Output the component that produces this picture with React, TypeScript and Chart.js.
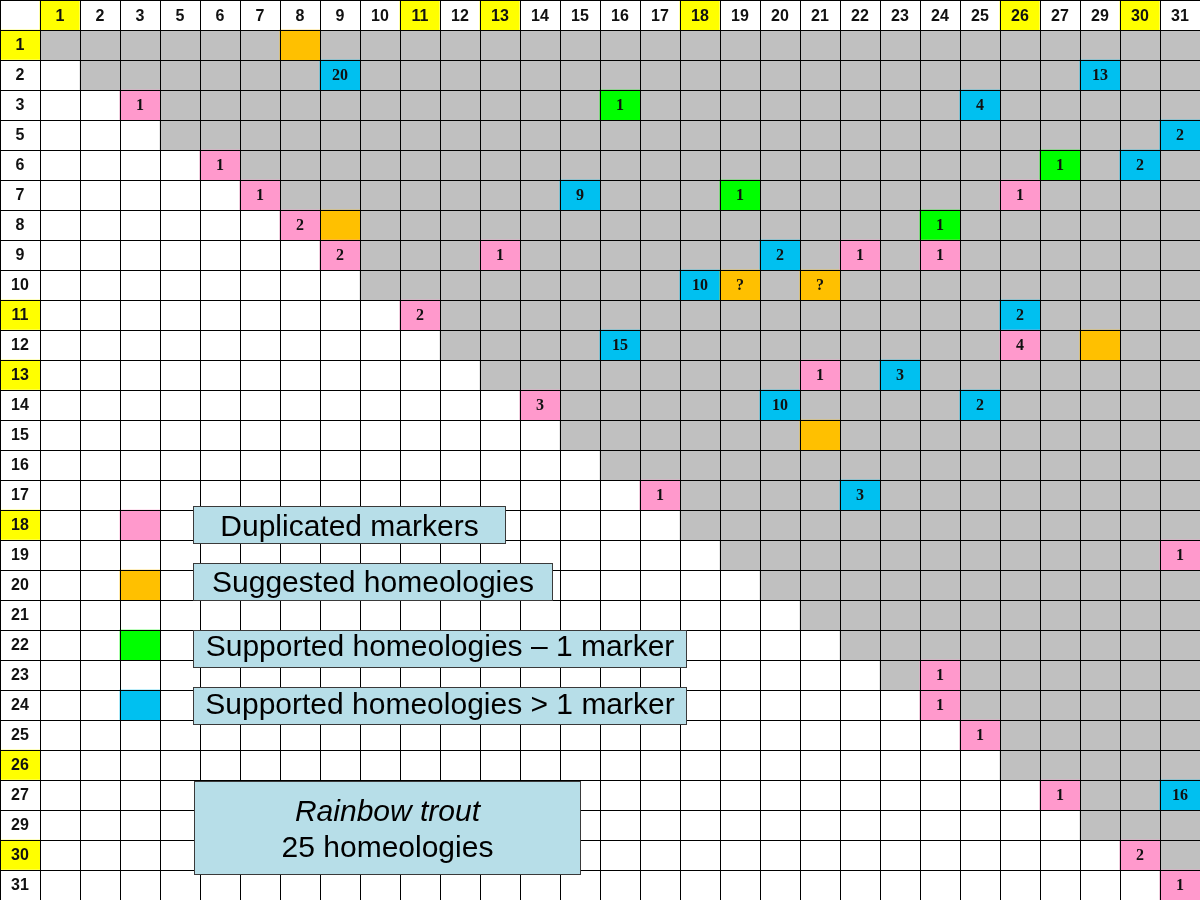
import { useEffect, useRef } from "react";
import { Chart, registerables } from "chart.js";

Chart.register(...registerables);

// Chromosome labels (rows and columns share the same list)
const chromosomes = ["1", "2", "3", "5", "6", "7", "8", "9", "10", "11", "12", "13", "14", "15", "16", "17", "18", "19", "20", "21", "22", "23", "24", "25", "26", "27", "29", "30", "31"];
const highlighted = ["1", "11", "13", "18", "26", "30"];

// [row, column, marker count]
const duplicatedMarkers: [string, string, string][] = [
  ["3", "3", "1"], ["6", "6", "1"], ["7", "7", "1"], ["7", "26", "1"], ["8", "8", "2"],
  ["9", "9", "2"], ["9", "13", "1"], ["9", "22", "1"], ["9", "24", "1"], ["11", "11", "2"],
  ["12", "26", "4"], ["13", "21", "1"], ["14", "14", "3"], ["17", "17", "1"], ["19", "31", "1"],
  ["23", "24", "1"], ["24", "24", "1"], ["25", "25", "1"], ["27", "27", "1"], ["30", "30", "2"],
  ["31", "31", "1"],
];
const suggestedHomeologies: [string, string, string][] = [
  ["1", "8", ""], ["8", "9", ""], ["10", "19", "?"], ["10", "21", "?"], ["12", "29", ""], ["15", "21", ""],
];
const supportedOneMarker: [string, string, string][] = [
  ["3", "16", "1"], ["6", "27", "1"], ["7", "19", "1"], ["8", "24", "1"],
];
const supportedMultiMarker: [string, string, string][] = [
  ["2", "9", "20"], ["2", "29", "13"], ["3", "25", "4"], ["5", "31", "2"], ["6", "30", "2"],
  ["7", "15", "9"], ["9", "20", "2"], ["10", "18", "10"], ["11", "26", "2"], ["12", "16", "15"],
  ["13", "23", "3"], ["14", "20", "10"], ["14", "25", "2"], ["17", "22", "3"], ["27", "31", "16"],
];

const legendLabels = ["Duplicated markers", "Suggested homeologies", "Supported homeologies – 1 marker", "Supported homeologies > 1 marker"];
const legendRows = ["18", "20", "22", "24"];
const summaryTitle = "Rainbow trout";
const summaryText = "25 homeologies";

const PINK = "#ff99cc";
const ORANGE = "#ffc000";
const GREEN = "#00ff00";
const BLUE = "#00c0f0";
const GRAY = "#c0c0c0";
const YELLOW = "#ffff00";
const legendColors = [PINK, ORANGE, GREEN, BLUE];

const rowPos = (r: string) => chromosomes.indexOf(r) + 1;

const base = {
  grouped: false,
  barPercentage: 1,
  categoryPercentage: 1,
  borderWidth: 0,
  borderSkipped: false,
};

function cellDataset(label: string, cells: [string, string, string][], color: string) {
  return {
    ...base,
    label,
    order: 1,
    textFont: "bold 16px 'Liberation Serif', 'Times New Roman', serif",
    data: cells.map(([r, c, t]) => ({ x: c, y: [rowPos(r), rowPos(r) + 1], t })),
    backgroundColor: color,
  };
}

const cellTextPlugin = {
  id: "cellText",
  afterDraw(chart: any) {
    const ctx = chart.ctx;
    chart.data.datasets.forEach((ds: any, di: number) => {
      if (!ds.textFont) return;
      const meta = chart.getDatasetMeta(di);
      ctx.save();
      ctx.font = ds.textFont;
      ctx.fillStyle = "#111";
      ctx.textAlign = "center";
      ctx.textBaseline = "middle";
      meta.data.forEach((el: any, k: number) => {
        const t = ds.data[k].t;
        if (t) ctx.fillText(t, el.x, (el.y + el.base) / 2 + 1);
      });
      ctx.restore();
    });
  },
};

const legendBoxPlugin = {
  id: "legendBoxes",
  afterDraw(chart: any) {
    const ctx = chart.ctx;
    const { left, top } = chart.chartArea;
    const boxes = [
      { x0: 193, x1: 506, y0: 506, y1: 544, lines: [{ t: legendLabels[0], y: 536, it: false }] },
      { x0: 193, x1: 553, y0: 563, y1: 601, lines: [{ t: legendLabels[1], y: 592, it: false }] },
      { x0: 193, x1: 687, y0: 630, y1: 668, lines: [{ t: legendLabels[2], y: 656, it: false }] },
      { x0: 193, x1: 687, y0: 687, y1: 725, lines: [{ t: legendLabels[3], y: 714, it: false }] },
      {
        x0: 194, x1: 581, y0: 781, y1: 875,
        lines: [{ t: summaryTitle, y: 821, it: true }, { t: summaryText, y: 857, it: false }],
      },
    ];
    ctx.save();
    boxes.forEach((b) => {
      ctx.fillStyle = "#b7dee8";
      ctx.fillRect(left + b.x0, top + b.y0, b.x1 - b.x0, b.y1 - b.y0);
      ctx.strokeStyle = "#3a3a3a";
      ctx.lineWidth = 1;
      ctx.strokeRect(left + b.x0 + 0.5, top + b.y0 + 0.5, b.x1 - b.x0 - 1, b.y1 - b.y0 - 1);
      ctx.fillStyle = "#000";
      ctx.textAlign = "center";
      ctx.textBaseline = "alphabetic";
      b.lines.forEach((l) => {
        ctx.font = `${l.it ? "italic " : ""}30px 'Liberation Sans', Arial, sans-serif`;
        ctx.fillText(l.t, left + (b.x0 + b.x1) / 2, top + l.y);
      });
    });
    ctx.restore();
  },
};

export default function App() {
  const canvasRef = useRef<HTMLCanvasElement | null>(null);

  useEffect(() => {
    document.body.style.margin = "0";
    if (!canvasRef.current) return;

    const grayCells: any[] = [];
    chromosomes.forEach((r, i) => {
      chromosomes.forEach((c, j) => {
        if (j >= i) grayCells.push({ x: c, y: [i + 1, i + 2] });
      });
    });

    const headerRow = chromosomes.map((c) => ({ x: c, y: [0, 1], t: c }));
    const headerCol = chromosomes.map((r) => ({ x: "", y: [rowPos(r), rowPos(r) + 1], t: r }));
    const headerFont = "bold 16px 'Liberation Sans', Arial, sans-serif";

    const chart = new Chart(canvasRef.current, {
      type: "bar",
      data: {
        labels: ["", ...chromosomes],
        datasets: [
          cellDataset("Duplicated markers", duplicatedMarkers, PINK),
          cellDataset("Suggested homeologies", suggestedHomeologies, ORANGE),
          cellDataset("Supported homeologies – 1 marker", supportedOneMarker, GREEN),
          cellDataset("Supported homeologies > 1 marker", supportedMultiMarker, BLUE),
          {
            ...base,
            label: "legend swatches",
            order: 1,
            data: legendRows.map((r) => ({ x: "3", y: [rowPos(r), rowPos(r) + 1] })),
            backgroundColor: legendColors,
          },
          {
            ...base,
            label: "header row",
            order: 2,
            textFont: headerFont,
            data: headerRow,
            backgroundColor: chromosomes.map((c) => (highlighted.includes(c) ? YELLOW : "#ffffff")),
          },
          {
            ...base,
            label: "header column",
            order: 2,
            textFont: headerFont,
            data: headerCol,
            backgroundColor: chromosomes.map((c) => (highlighted.includes(c) ? YELLOW : "#ffffff")),
          },
          {
            ...base,
            label: "comparisons",
            order: 5,
            data: grayCells,
            backgroundColor: GRAY,
          },
        ] as any,
      },
      options: {
        animation: false,
        responsive: false,
        devicePixelRatio: 1,
        layout: { padding: 0 },
        plugins: { legend: { display: false }, tooltip: { enabled: false } },
        events: [],
        scales: {
          x: {
            type: "category",
            offset: true,
            grid: { offset: true, color: "#000", lineWidth: 1, drawTicks: false, z: 1 },
            border: { display: false },
            ticks: { display: false },
          },
          y: {
            type: "linear",
            min: 0,
            max: 30,
            reverse: true,
            grid: { color: "#000", lineWidth: 1, drawTicks: false, z: 1 },
            border: { display: false },
            ticks: { display: false, stepSize: 1 },
          },
        },
      } as any,
      plugins: [cellTextPlugin, legendBoxPlugin],
    });

    return () => chart.destroy();
  }, []);

  return (
    <div style={{ position: "absolute", left: 0, top: 0, width: 1200, height: 900, background: "#fff" }}>
      <canvas ref={canvasRef} width={1200} height={900} />
    </div>
  );
}
